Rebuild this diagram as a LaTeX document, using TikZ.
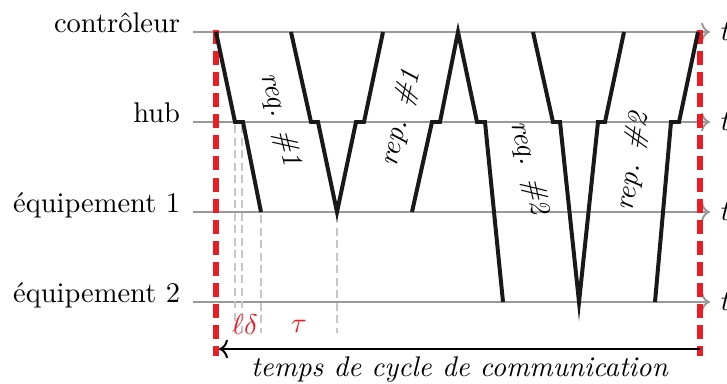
\documentclass[tikz,border=0pt]{standalone}
\usepackage{fontspec}
\usepackage{amssymb}
\usepackage{tikz}
\usetikzlibrary{
	arrows.meta,
	positioning,
	calc
}
\definecolor{vifrouge}{RGB}{237,28,36}

\begin{document}
\begin{tikzpicture}[
				x=0.351pt, y=-0.351pt,
				axe/.style={->, gray!80, line width=0.7pt},
				signal/.style={black!90, line width=1.4pt, line join=miter},
				repere/.style={gray!45, line width=0.5pt, dash pattern=on 2.8pt off 1.6pt},
				borne/.style={vifrouge, line width=2.4pt, dash pattern=on 4.9pt off 2.5pt},
				etiq/.style={anchor=base east, xshift=-1pt},
				message/.style={font=\itshape, inner sep=0pt},
				rouge/.style={text=vifrouge, inner sep=0pt},
				]
				\useasboundingbox (0,0) rectangle (727,383);
				
				%lignes de temps
				\foreach \nom/\y/\texte in {ctrl/32/contrôleur, hub/122/hub, eqa/212/équipement 1, eqb/302/équipement 2} {
					\coordinate (\nom-d) at (193,\y);
					\coordinate (\nom-f) at (710,\y);
					\draw[axe] (\nom-d) -- (\nom-f);
					\node[etiq] (lab-\nom) at (\nom-d) {\texte};
					\node[right=0.3pt of \nom-f] (t-\nom) {$t$};
				}
				
				%reperes
				\foreach \x in {235,242}
					\draw[repere] (\x,125) -- (\x,333);
				\foreach \x in {261,337}
					\draw[repere] (\x,215) -- (\x,333);
				
				\node[rouge] (ell) at (238,325) {$\ell$};
				\node[rouge] (delta) at (251,325) {$\delta$};
				\node[rouge] (tau) at (299,326) {$\tau$};
				
				%cycle
				\draw[borne] (216,30) -- (216,356);
				\draw[borne] (700,30) -- (700,356);
				
				%1. set
				\draw[signal] (216,32) -- (235,122) -- (243,122) -- (261,212);
				\node[message, rotate=-76] (req1) at (280,120) {req. \#1};
				
				%2. set
				\draw[signal] (291,32) -- (311,122) -- (318,122) -- (337,212) -- (356,122) -- (364,122) -- (383,32);
				\node[message, rotate=76] (rep1) at (401,118) {rep. \#1};
				
				%3. set
				\draw[signal] (412,212) -- (432,122) -- (440,122) -- (458,32) -- (477,122) -- (485,122) -- (503,302);
				\node[message, rotate=-77] (req2) at (529,168) {req. \#2};
				
				%4. set
				\draw[signal] (533,32) -- (553,122) -- (560,122) -- (579,302) -- (598,122) -- (605,122) -- (624,32);
				\node[message, rotate=81] (rep2) at (633,162) {rep. \#2};
				
				%5. set
				\draw[signal] (655,302) -- (671,122) -- (679,122) -- (698,32);
				
				%duree du cycle
				\coordinate (debut) at (219,349);
				\coordinate (fin) at (700,349);
				\draw[<-, line width=0.7pt] (debut) -- (fin) node[midway, below=-1pt, font=\itshape] (duree) {temps de cycle de communication};
			\end{tikzpicture}
\end{document}
